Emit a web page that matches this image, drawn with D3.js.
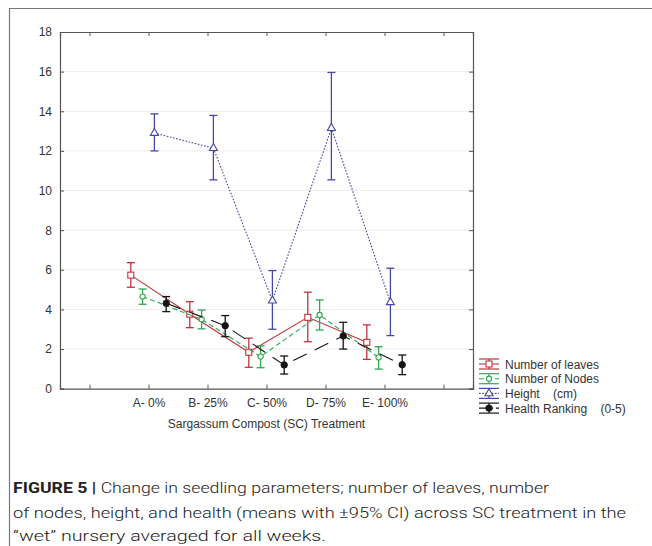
<!DOCTYPE html>
<html>
<head>
<meta charset="utf-8">
<script src="https://cdn.jsdelivr.net/npm/d3@7"></script>
<style>
  html, body { margin: 0; padding: 0; background: #fff; }
  svg { display: block; }
  text { white-space: pre; }
</style>
</head>
<body>
<svg id="chart" width="652" height="546"></svg>
<script>
// ---- data ----
const categories = ["A- 0%", "B- 25%", "C- 50%", "D- 75%", "E- 100%"];
const yTicks = [0, 2, 4, 6, 8, 10, 12, 14, 16, 18];

const leavesMean = [5.73, 3.76, 1.84, 3.60, 2.34];
const leavesLow  = [5.12, 3.08, 1.08, 2.37, 1.48];
const leavesHigh = [6.36, 4.39, 2.55, 4.87, 3.22];

const nodesMean = [4.65, 3.50, 1.62, 3.72, 1.58];
const nodesLow  = [4.26, 3.02, 1.06, 2.96, 0.99];
const nodesHigh = [5.03, 3.97, 2.16, 4.48, 2.12];

const heightMean = [12.90, 12.14, 4.44, 13.15, 4.36];
const heightLow  = [12.00, 10.54, 3.00, 10.54, 2.68];
const heightHigh = [13.87, 13.79, 5.96, 15.96, 6.08];

const healthMean = [4.31, 3.18, 1.20, 2.66, 1.21];
const healthLow  = [3.89, 2.63, 0.74, 2.00, 0.71];
const healthHigh = [4.65, 3.69, 1.65, 3.35, 1.70];

const seriesNames = ["Number of leaves", "Number of Nodes", "Height    (cm)", "Health Ranking    (0-5)"];

const xAxisTitle = "Sargassum Compost (SC) Treatment";
const captionBold = "FIGURE 5 | ";
const captionLines = [
  "Change in seedling parameters; number of leaves, number",
  "of nodes, height, and health (means with \u00b195% CI) across SC treatment in the",
  "\u201cwet\u201d nursery averaged for all weeks."
];

// ---- build ----
const series = [
  {name: seriesNames[0], mean: leavesMean, lo: leavesLow, hi: leavesHigh, color: "#c1323c", dash: null, marker: "square", offset: -0.3},
  {name: seriesNames[1], mean: nodesMean, lo: nodesLow, hi: nodesHigh, color: "#2fa84f", dash: "5,3", marker: "circle", offset: -0.1},
  {name: seriesNames[2], mean: heightMean, lo: heightLow, hi: heightHigh, color: "#4747a6", dash: "1.6,1.6", marker: "triangle", offset: 0.1},
  {name: seriesNames[3], mean: healthMean, lo: healthLow, hi: healthHigh, color: "#151515", dash: "15,9", marker: "dot", offset: 0.3}
];

const svg = d3.select("#chart");
const font = "'Liberation Sans', Arial, sans-serif";

// outer frame (top and left rules)
svg.append("line").attr("x1", 9).attr("x2", 652).attr("y1", 8.5).attr("y2", 8.5)
  .attr("stroke", "#777").attr("stroke-width", 1.2);
svg.append("line").attr("x1", 9.5).attr("x2", 9.5).attr("y1", 8).attr("y2", 546)
  .attr("stroke", "#777").attr("stroke-width", 1.2);

const L = 60, R = 473, T = 32, B = 388.7;
const x = d3.scaleLinear().domain([-0.5, 6.5]).range([L, R]);
const y = d3.scaleLinear().domain([0, 18]).range([B, T]);

// gridlines
svg.append("g").selectAll("line").data(yTicks.filter(d => d > 0 && d < 18)).join("line")
  .attr("x1", L).attr("x2", R).attr("y1", d => y(d)).attr("y2", d => y(d))
  .attr("stroke", "#ececec").attr("stroke-width", 1);

// axes
const xTickVals = d3.range(0, categories.length + 2);
const axisStyle = g => {
  g.select(".domain").attr("stroke", "#555").attr("stroke-width", 1.2);
  g.selectAll(".tick line").attr("stroke", "#555");
  g.selectAll("text").attr("font-family", font).attr("font-size", 12).attr("fill", "#333");
};
svg.append("g").attr("transform", `translate(${L},0)`)
  .call(d3.axisLeft(y).tickValues(yTicks).tickSize(-4).tickPadding(8).tickFormat(d3.format("d")))
  .call(axisStyle);
svg.append("g").attr("transform", `translate(${R},0)`)
  .call(d3.axisRight(y).tickValues(yTicks).tickSize(-4).tickFormat(""))
  .call(axisStyle);
svg.append("g").attr("transform", `translate(0,${B})`)
  .call(d3.axisBottom(x).tickValues(xTickVals).tickSize(-4).tickPadding(10)
    .tickFormat(d => (d >= 1 && d <= categories.length) ? categories[d - 1] : ""))
  .call(axisStyle);
svg.append("g").attr("transform", `translate(0,${T})`)
  .call(d3.axisTop(x).tickValues(xTickVals).tickSize(-4).tickFormat(""))
  .call(axisStyle);

svg.append("text").attr("x", (L + R) / 2).attr("y", 428).attr("text-anchor", "middle")
  .attr("font-family", font).attr("font-size", 12).attr("fill", "#333").text(xAxisTitle);

// marker drawing
function drawMarker(g, type, color, cx, cy) {
  if (type === "square") {
    g.append("rect").attr("x", cx - 3).attr("y", cy - 3).attr("width", 6).attr("height", 6)
      .attr("fill", "#fff").attr("stroke", color).attr("stroke-width", 1.1);
  } else if (type === "circle") {
    g.append("circle").attr("cx", cx).attr("cy", cy).attr("r", 2.6)
      .attr("fill", "#fff").attr("stroke", color).attr("stroke-width", 1.1);
  } else if (type === "triangle") {
    g.append("path").attr("d", d3.symbol(d3.symbolTriangle, 28)())
      .attr("transform", `translate(${cx},${cy})`)
      .attr("fill", "#fff").attr("stroke", color).attr("stroke-width", 1.1);
  } else {
    g.append("circle").attr("cx", cx).attr("cy", cy).attr("r", 3.2)
      .attr("fill", color).attr("stroke", color);
  }
}

const line = d3.line();
series.forEach(s => {
  const g = svg.append("g");
  const pts = s.mean.map((v, i) => [x(i + 1 + s.offset), y(v)]);
  g.append("path").attr("d", line(pts)).attr("fill", "none")
    .attr("stroke", s.color).attr("stroke-width", 1.1)
    .attr("stroke-dasharray", s.dash);
  s.mean.forEach((v, i) => {
    const cx = x(i + 1 + s.offset);
    g.append("line").attr("x1", cx).attr("x2", cx).attr("y1", y(s.lo[i])).attr("y2", y(s.hi[i]))
      .attr("stroke", s.color).attr("stroke-width", 1.3);
    [s.lo[i], s.hi[i]].forEach(e => {
      g.append("line").attr("x1", cx - 4).attr("x2", cx + 4).attr("y1", y(e)).attr("y2", y(e))
        .attr("stroke", s.color).attr("stroke-width", 1.3);
    });
  });
  s.mean.forEach((v, i) => drawMarker(g, s.marker, s.color, x(i + 1 + s.offset), y(v)));
});

// legend
const legY0 = 364, legDy = 14.7, symX = 479, symW = 20, txtX = 505;
series.forEach((s, k) => {
  const cy = legY0 + k * legDy;
  const g = svg.append("g");
  g.append("line").attr("x1", symX).attr("x2", symX + symW).attr("y1", cy).attr("y2", cy)
    .attr("stroke", s.color).attr("stroke-width", 1.1).attr("stroke-dasharray", s.dash ? (k === 3 ? "14,3" : s.dash) : null);
  [cy - 5, cy + 5].forEach(yy => g.append("line").attr("x1", symX).attr("x2", symX + symW)
    .attr("y1", yy).attr("y2", yy).attr("stroke", s.color).attr("stroke-width", 1.2));
  g.append("line").attr("x1", symX + symW / 2).attr("x2", symX + symW / 2).attr("y1", cy - 5).attr("y2", cy + 5)
    .attr("stroke", s.color).attr("stroke-width", 1.2);
  drawMarker(g, s.marker, s.color, symX + symW / 2, cy);
  g.append("text").attr("x", txtX).attr("y", cy + 4.5).attr("xml:space", "preserve")
    .attr("font-family", font).attr("font-size", 12).attr("fill", "#333").text(s.name);
});

// caption
const capFont = "Roboto, 'Liberation Sans', Arial, sans-serif";
const capY = [493, 518, 541];
const capW = [536, 613, 313];
captionLines.forEach((t, i) => {
  const tx = svg.append("text").attr("x", 13).attr("y", capY[i])
    .attr("font-family", capFont).attr("font-size", 15.5).attr("font-weight", 300).attr("fill", "#222")
    .attr("textLength", capW[i]).attr("lengthAdjust", "spacingAndGlyphs");
  if (i === 0) tx.append("tspan").attr("font-weight", "bold").text(captionBold);
  tx.append("tspan").text(t);
});
</script>
</body>
</html>
